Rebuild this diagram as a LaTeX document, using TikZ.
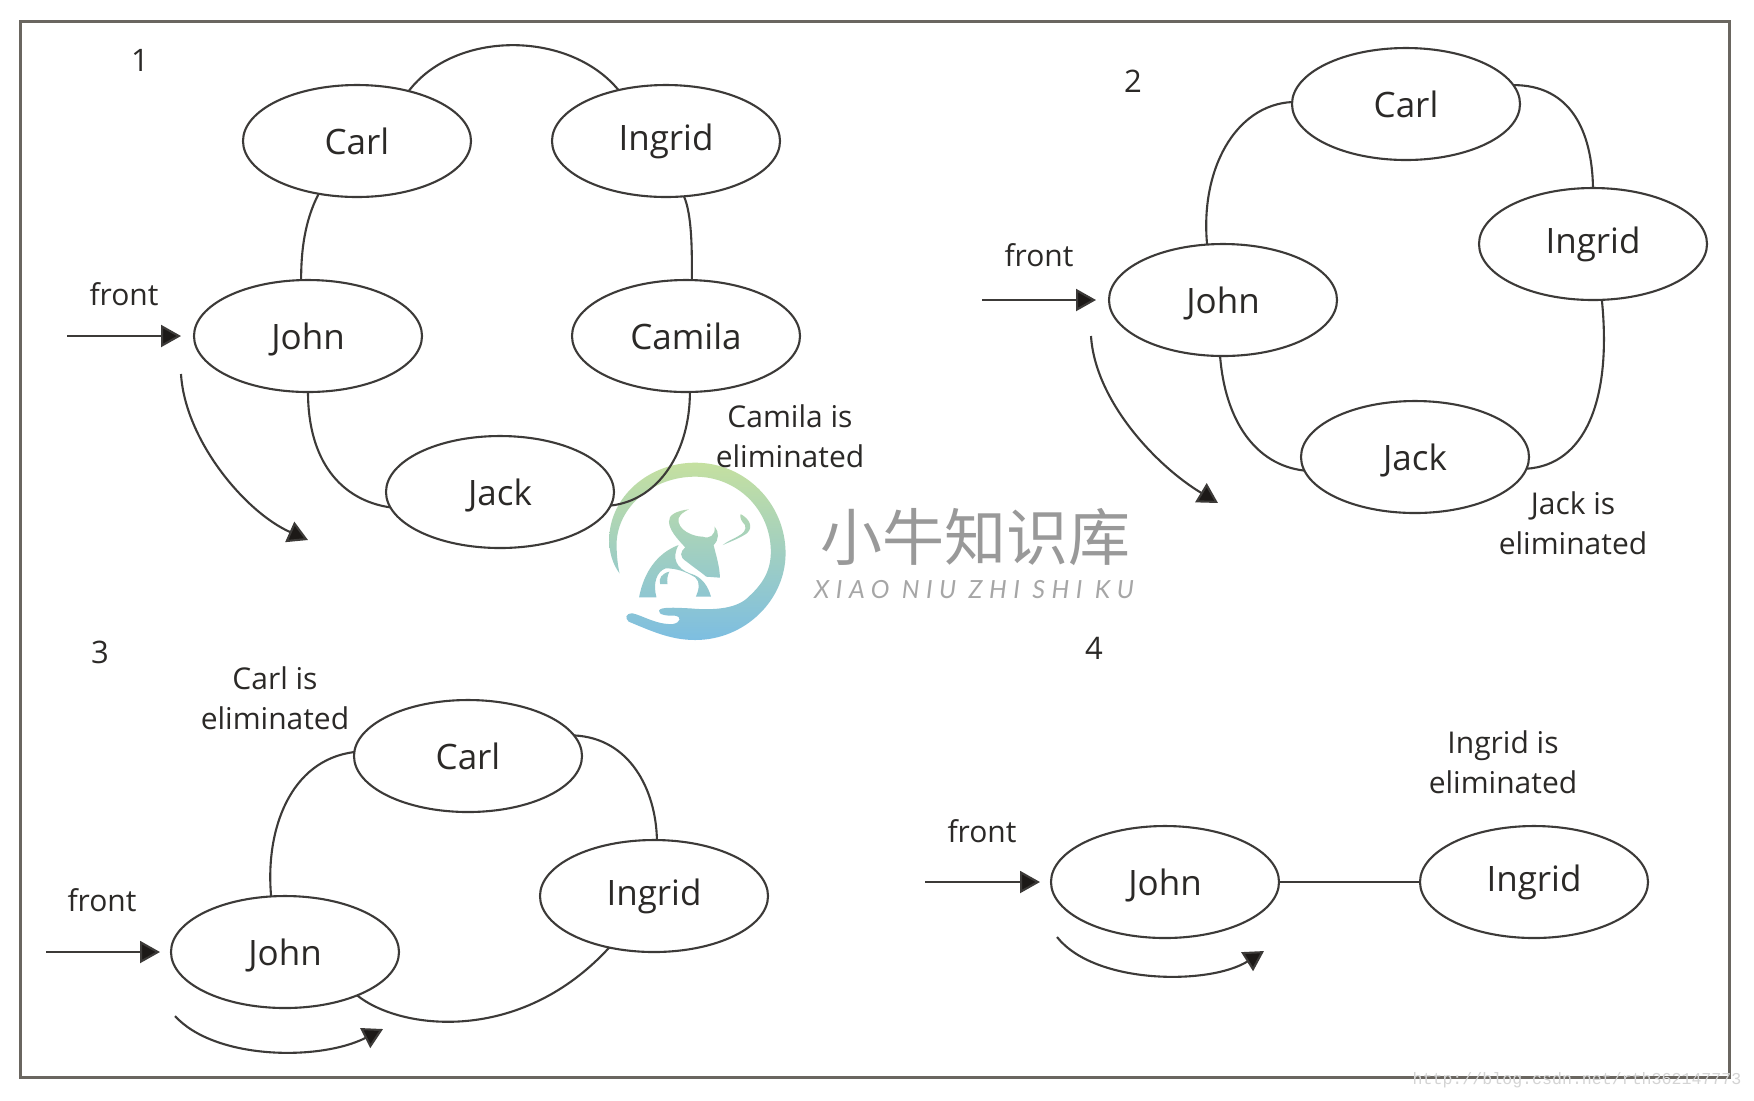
\documentclass[tikz,border=0pt]{standalone}
\usepackage{fontspec}
\usetikzlibrary{arrows.meta,shapes.geometric}
\setmainfont{Open Sans}
\newfontfamily\cjkwm{Noto Sans CJK SC}
\newfontfamily\latwm[LetterSpace=26]{Lato}
\newfontfamily\urlwm{Liberation Mono}
\definecolor{ink}{HTML}{2B2927}
\definecolor{edgec}{HTML}{3C3A38}
\definecolor{framec}{HTML}{6A6660}
\definecolor{headc}{HTML}{1C1917}
\tikzset{
  person/.style={ellipse,draw=edgec,line width=1.05pt,minimum width=114pt,minimum height=56pt,inner sep=0pt,outer sep=0pt,text=ink,font=\fontsize{17.5}{20}\selectfont},
  nodesc/.style={text depth=0pt},
  lbl/.style={text=ink,align=center,inner sep=0pt,font=\fontsize{15}{20}\selectfont},
  num/.style={text=ink,inner sep=0pt,font=\fontsize{15.5}{20}\selectfont},
  link/.style={draw=edgec,line width=1.05pt},
  arr/.style={draw=edgec,line width=1.05pt,-{Triangle[length=10pt,width=11pt,fill=headc]}}
}
\begin{document}
\begin{tikzpicture}[x=0.5pt,y=-0.5pt]
\useasboundingbox (0,0) rectangle (1754,1100);
\fill[white] (0,0) rectangle (1754,1100);
% watermark
\begin{scope}[shift={(590,440)},xscale=0.369,yscale=0.33333]
\shade[top color={rgb,255:red,197;green,224;blue,160},middle color={rgb,255:red,128;green,207;blue,192},bottom color={rgb,255:red,125;green,190;blue,225}]
 (80,400) .. controls (60,370) and (52,335) .. (52,300) .. controls (52,170) and (160,68) .. (285,68) .. controls (420,68) and (530,190) .. (530,340) .. controls (530,480) and (420,600) .. (285,600) .. controls (220,600) and (170,575) .. (105,545) .. controls (95,535) and (95,520) .. (115,520) .. controls (140,525) and (180,555) .. (225,552) .. controls (245,548) and (250,530) .. (230,527) .. controls (210,528) and (185,525) .. (187,512) .. controls (190,500) and (230,503) .. (270,505) .. controls (340,512) and (400,505) .. (430,470) .. controls (470,430) and (490,390) .. (490,335) .. controls (490,210) and (400,110) .. (285,110) .. controls (170,110) and (75,200) .. (72,310) .. controls (72,345) and (75,375) .. (80,400) -- cycle
 (268,208) .. controls (235,212) and (212,225) .. (214,245) .. controls (215,270) and (235,295) .. (258,322) .. controls (245,335) and (240,350) .. (262,365) .. controls (285,385) and (305,400) .. (315,410) -- (352,413) .. controls (352,380) and (340,340) .. (335,315) .. controls (350,300) and (350,275) .. (338,260) .. controls (340,285) and (325,298) .. (305,290) .. controls (280,290) and (235,270) .. (240,235) .. controls (245,222) and (255,215) .. (268,208) -- cycle
 (240,315) .. controls (180,340) and (145,400) .. (133,472) -- (180,472) .. controls (170,430) and (180,395) .. (205,385) .. controls (235,385) and (260,395) .. (285,412) .. controls (300,425) and (295,450) .. (287,470) -- (328,470) .. controls (320,440) and (305,410) .. (270,400) .. controls (235,385) and (220,355) .. (240,315) -- cycle
 (215,395) .. controls (195,400) and (185,415) .. (190,432) -- (210,432) .. controls (208,420) and (210,405) .. (215,395) -- cycle
 (408,222) .. controls (430,235) and (445,260) .. (425,280) .. controls (405,295) and (380,305) .. (360,315) .. controls (380,295) and (430,285) .. (420,255) .. controls (412,245) and (405,235) .. (408,222) -- cycle;
\end{scope}
\node[text=black!40,inner sep=0pt,font=\cjkwm\fontsize{31}{34}\selectfont] (wmcn) at (975,537) {小牛知识库};
\node[text=black!35,inner sep=0pt,font=\latwm\itshape\fontsize{12.5}{14}\selectfont] (wmen) at (974,590) {XIAO NIU ZHI SHI KU};
% frame
\node[draw=framec,line width=1.5pt,minimum width=854.5pt,minimum height=528pt,inner sep=0pt] (frame) at (875,549) {};
\node[text=black!17,inner sep=0pt,font=\urlwm\fontsize{8.3}{10}\selectfont] (wmurl) at (1577,1080) {http://blog.csdn.net/rth362147773};
% panel 1
\node[num] (n1) at (140,60) {1};
\node[person] (carlA) at (357,141) {Carl};
\node[person] (ingridA) at (666,141) {Ingrid};
\node[person,nodesc] (johnA) at (308,336) {John};
\node[person] (camila) at (686,336) {Camila};
\node[person,nodesc] (jackA) at (500,492) {Jack};
\node[lbl] (frontA) at (124,294) {front};
\node[lbl] (elimA) at (790,436) {Camila is\\eliminated};
\coordinate (faS) at (67,336); \coordinate (faE) at (181,336);
\coordinate (caS) at (181,374); \coordinate (caE) at (308,540);
\draw[link] (carlA.44) .. controls (455,30) and (569,30) .. (ingridA.133);
\draw[link] (carlA.234) .. controls (305,220) and (301,250) .. (johnA.97);
\draw[link] (ingridA.288) .. controls (692,215) and (692,250) .. (camila.84);
\draw[link] (johnA.270) .. controls (308,460) and (340,500) .. (jackA.188);
\draw[link] (camila.274) .. controls (690,450) and (660,500) .. (jackA.353);
\draw[arr] (faS) -- (faE);
\draw[arr] (caS) .. controls (185,440) and (245,512) .. (caE);
% panel 2
\node[num] (n2) at (1133,81) {2};
\node[person] (carlB) at (1406,104) {Carl};
\node[person] (ingridB) at (1593,244) {Ingrid};
\node[person,nodesc] (johnB) at (1223,300) {John};
\node[person,nodesc] (jackB) at (1415,457) {Jack};
\node[lbl] (frontB) at (1039,255) {front};
\node[lbl] (elimB) at (1573,523) {Jack is\\eliminated};
\coordinate (fbS) at (982,300); \coordinate (fbE) at (1096,300);
\coordinate (cbS) at (1091,336); \coordinate (cbE) at (1218,503);
\draw[link] (carlB.179) .. controls (1235,105) and (1200,170) .. (johnB.106);
\draw[link] (carlB.10) .. controls (1570,85) and (1592,130) .. (ingridB.90);
\draw[link] (ingridB.279) .. controls (1612,400) and (1585,465) .. (jackB.354);
\draw[link] (johnB.267) .. controls (1225,420) and (1255,465) .. (jackB.187);
\draw[arr] (fbS) -- (fbE);
\draw[arr] (cbS) .. controls (1095,400) and (1155,465) .. (cbE);
% panel 3
\node[num] (n3) at (100,652) {3};
\node[person] (carlC) at (468,756) {Carl};
\node[person] (ingridC) at (654,896) {Ingrid};
\node[person,nodesc] (johnC) at (285,952) {John};
\node[lbl] (frontC) at (102,900) {front};
\node[lbl] (elimC) at (275,698) {Carl is\\eliminated};
\coordinate (fcS) at (46,952); \coordinate (fcE) at (160,952);
\coordinate (ccS) at (175,1016); \coordinate (ccE) at (383,1029);
\draw[link] (carlC.178) .. controls (290,760) and (265,830) .. (johnC.104);
\draw[link] (carlC.11) .. controls (630,738) and (656,790) .. (ingridC.87);
\draw[link] (johnC.329) .. controls (400,1030) and (520,1045) .. (ingridC.229);
\draw[arr] (fcS) -- (fcE);
\draw[arr] (ccS) .. controls (215,1060) and (320,1061) .. (ccE);
% panel 4
\node[num] (n4) at (1094,648) {4};
\node[person,nodesc] (johnD) at (1165,882) {John};
\node[person] (ingridD) at (1534,882) {Ingrid};
\node[lbl] (frontD) at (982,831) {front};
\node[lbl] (elimD) at (1503,762) {Ingrid is\\eliminated};
\coordinate (fdS) at (925,882); \coordinate (fdE) at (1040,882);
\coordinate (cdS) at (1057,937); \coordinate (cdE) at (1264,951);
\draw[link] (johnD) -- (ingridD);
\draw[arr] (fdS) -- (fdE);
\draw[arr] (cdS) .. controls (1095,985) and (1210,985) .. (cdE);
\end{tikzpicture}
\end{document}
